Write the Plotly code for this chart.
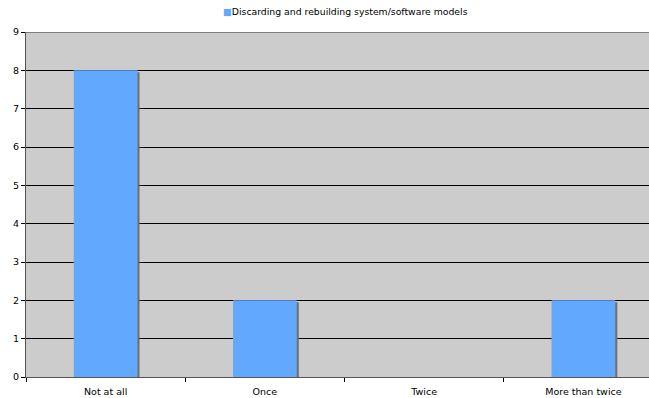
import plotly.graph_objects as go

categories = ["Not at all", "Once", "Twice", "More than twice"]
values = [8, 2, 0, 2]
series_name = "Discarding and rebuilding system/software models"

FONT = "DejaVu Sans"
BAR_COLOR = "#62A8FF"
BAR_W = 0.4

fig = go.Figure()
# shadow behind bars
fig.add_trace(go.Bar(
    x=categories, y=values, width=BAR_W, offset=-BAR_W / 2 + 0.013,
    base=[-0.05] * len(values),
    marker=dict(color="#707070", line=dict(width=0)),
    showlegend=False, hoverinfo="skip",
))
fig.add_trace(go.Bar(
    x=categories, y=values, width=BAR_W, offset=-BAR_W / 2,
    marker=dict(color=BAR_COLOR, line=dict(width=0)),
    name=series_name, showlegend=False,
))

fig.update_layout(
    width=649, height=398,
    margin=dict(l=26, r=0, t=32, b=21),
    paper_bgcolor="white",
    plot_bgcolor="#CCCCCC",
    barmode="overlay",
    font=dict(family=FONT, size=9.5, color="#000000"),
    showlegend=False,
)
# legend drawn as text
fig.add_annotation(
    xref="paper", yref="paper", x=(221 - 26) / 623, y=1, yshift=21,
    xanchor="left", yanchor="middle", showarrow=False,
    text=f"<span style='color:{BAR_COLOR}'>■</span>{series_name}",
    font=dict(family=FONT, size=9.3, color="#000000"),
)
fig.update_xaxes(
    type="category",
    range=[-0.5, 3.5 - 14 / 159],
    tickson="boundaries",
    ticks="outside", ticklen=4, tickcolor="#000000",
    ticklabelstandoff=6,
    showgrid=False,
    showline=True, linecolor="#555555", linewidth=1,
    tickfont=dict(family=FONT, size=9.5),
)
fig.update_yaxes(
    range=[0, 9], dtick=1,
    ticks="outside", ticklen=4, tickcolor="#000000",
    showgrid=True, gridcolor="#000000", gridwidth=1,
    showline=True, linecolor="#555555", linewidth=1,
    zeroline=False,
    tickfont=dict(family=FONT, size=9.5),
)
fig.add_shape(type="line", xref="paper", yref="y", x0=0, x1=1, y0=9, y1=9,
              line=dict(color="#333333", width=1))

fig.write_html("out.html")
